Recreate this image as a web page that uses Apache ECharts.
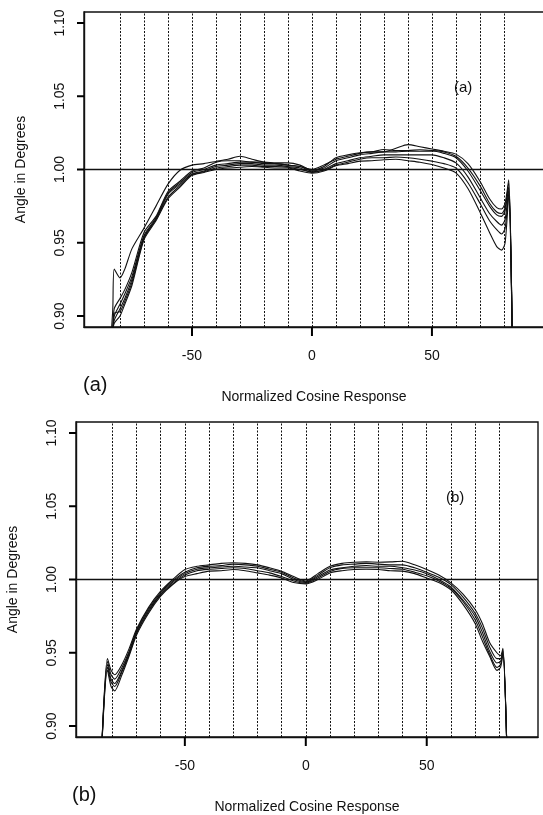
<!DOCTYPE html>
<html>
<head>
<meta charset="utf-8">
<script src="https://cdn.jsdelivr.net/npm/echarts@6/dist/echarts.min.js"></script>
<style>
  html, body { margin: 0; padding: 0; background: #fff; }
  #chart { width: 543px; height: 815px; }
</style>
</head>
<body>
<div id="chart"></div>
<script>
// ---------- data ----------
const xTicks = [-50, 0, 50]
const yTicks = [0.90, 0.95, 1.00, 1.05, 1.10]
const guideX = [-80, -70, -60, -50, -40, -30, -20, -10, 0, 10, 20, 30, 40, 50, 60, 70, 80]
const yMin = 0.8925
const yMax = 1.1075

// panel (a)
const xA = [-84, -83, -82.4, -80, -78, -75, -70, -65, -60, -55, -50, -45, -40, -35, -30, -25, -20, -15, -10, -5,
  0, 5, 10, 15, 20, 25, 30, 35, 40, 45, 50, 55, 60, 65, 70, 74, 77, 79, 80.5, 82, 83.5]
const a1 = [0.88, 0.905, 0.932, 0.926, 0.932, 0.946, 0.960, 0.975, 0.990, 0.9995, 1.003, 1.004, 1.0055, 1.007, 1.009, 1.007, 1.005, 1.004, 1.003, 1.002,
  1.000, 1.003, 1.007, 1.009, 1.011, 1.012, 1.012, 1.0145, 1.017, 1.0155, 1.014, 1.0125, 1.0105, 1.004, 0.992, 0.980, 0.974, 0.973, 0.977, 0.993, 0.88]
const a2 = [0.88, 0.89, 0.905, 0.912, 0.918, 0.930, 0.957, 0.968, 0.985, 0.992, 0.999, 1.001, 1.005, 1.006, 1.006, 1.005, 1.005, 1.0045, 1.0045, 1.003,
  0.9995, 1.002, 1.008, 1.010, 1.0114, 1.012, 1.0137, 1.013, 1.013, 1.0135, 1.013, 1.012, 1.009, 1.001, 0.989, 0.977, 0.971, 0.970, 0.974, 0.991, 0.88]
const a3 = [0.88, 0.89, 0.900, 0.908, 0.915, 0.927, 0.955, 0.967, 0.984, 0.991, 0.998, 1.000, 1.003, 1.004, 1.005, 1.005, 1.004, 1.004, 1.003, 1.002,
  0.999, 1.001, 1.006, 1.008, 1.010, 1.011, 1.012, 1.012, 1.0125, 1.0125, 1.0126, 1.011, 1.008, 0.999, 0.986, 0.975, 0.969, 0.968, 0.972, 0.988, 0.88]
const a4 = [0.88, 0.89, 0.897, 0.905, 0.912, 0.925, 0.954, 0.966, 0.983, 0.990, 0.997, 0.999, 1.002, 1.003, 1.004, 1.004, 1.003, 1.003, 1.002, 1.001,
  0.998, 1.000, 1.004, 1.006, 1.008, 1.009, 1.010, 1.010, 1.010, 1.010, 1.010, 1.008, 1.0045, 0.995, 0.981, 0.970, 0.9645, 0.962, 0.966, 0.986, 0.88]
const a5 = [0.88, 0.89, 0.902, 0.903, 0.910, 0.923, 0.953, 0.966, 0.981, 0.989, 0.9965, 0.9985, 1.001, 1.002, 1.003, 1.003, 1.002, 1.002, 1.0015, 1.000,
  0.9985, 0.9995, 1.003, 1.005, 1.007, 1.008, 1.008, 1.0085, 1.008, 1.007, 1.0057, 1.004, 1.001, 0.991, 0.977, 0.965, 0.9589, 0.956, 0.960, 0.984, 0.88]
const a6 = [0.88, 0.89, 0.895, 0.900, 0.908, 0.921, 0.952, 0.965, 0.980, 0.988, 0.996, 0.998, 1.000, 1.001, 1.0015, 1.002, 1.0015, 1.001, 1.001, 0.999,
  0.9975, 0.999, 1.0025, 1.004, 1.0057, 1.006, 1.0067, 1.007, 1.006, 1.005, 1.0034, 1.001, 0.9977, 0.987, 0.971, 0.957, 0.9474, 0.945, 0.950, 0.982, 0.88]

// panel (b)
const xB = [-84.5, -82, -80.5, -79, -76, -73, -70, -65, -60, -55, -50, -45, -40, -35, -30, -25, -20, -15, -10, -5,
  0, 5, 10, 15, 20, 25, 30, 35, 40, 45, 50, 55, 60, 65, 70, 73, 76, 79, 80.5, 81.5, 83.2]
const b1 = [0.88, 0.946, 0.938, 0.935, 0.942, 0.953, 0.966, 0.981, 0.992, 1.000, 1.0068, 1.009, 1.010, 1.011, 1.0114, 1.011, 1.010, 1.008, 1.0057, 1.002,
  0.999, 1.004, 1.009, 1.011, 1.0118, 1.012, 1.0118, 1.012, 1.0125, 1.010, 1.0068, 1.003, 0.9977, 0.990, 0.9795, 0.970, 0.957, 0.950, 0.948, 0.953, 0.88]
const b2 = [0.88, 0.944, 0.935, 0.932, 0.940, 0.951, 0.965, 0.980, 0.991, 0.999, 1.005, 1.008, 1.009, 1.0095, 1.0105, 1.010, 1.009, 1.007, 1.005, 1.001,
  0.9985, 1.003, 1.008, 1.010, 1.0105, 1.011, 1.0105, 1.010, 1.010, 1.008, 1.005, 1.0015, 0.9965, 0.988, 0.977, 0.967, 0.954, 0.946, 0.946, 0.952, 0.88]
const b3 = [0.88, 0.942, 0.932, 0.929, 0.938, 0.950, 0.964, 0.979, 0.990, 0.998, 1.004, 1.007, 1.008, 1.0085, 1.009, 1.0085, 1.008, 1.006, 1.004, 1.000,
  0.998, 1.002, 1.0065, 1.008, 1.009, 1.0095, 1.009, 1.009, 1.008, 1.0065, 1.004, 1.000, 0.995, 0.986, 0.975, 0.964, 0.951, 0.943, 0.944, 0.951, 0.88]
const b4 = [0.88, 0.940, 0.930, 0.927, 0.937, 0.949, 0.963, 0.978, 0.9895, 0.997, 1.003, 1.006, 1.007, 1.0075, 1.008, 1.0075, 1.006, 1.0045, 1.002, 0.999,
  0.9975, 1.001, 1.0055, 1.0075, 1.008, 1.008, 1.008, 1.0075, 1.007, 1.005, 1.0025, 0.999, 0.994, 0.985, 0.9725, 0.961, 0.949, 0.940, 0.942, 0.950, 0.88]
const b5 = [0.88, 0.938, 0.927, 0.924, 0.935, 0.948, 0.962, 0.977, 0.9886, 0.9966, 1.002, 1.004, 1.0057, 1.006, 1.0068, 1.006, 1.0045, 1.003, 1.001, 0.998,
  0.997, 1.000, 1.0045, 1.006, 1.0068, 1.007, 1.0068, 1.006, 1.0057, 1.004, 1.001, 0.998, 0.993, 0.983, 0.970, 0.958, 0.9476, 0.938, 0.940, 0.949, 0.88]

const curvesA = [a1, a2, a3, a4, a5, a6]
const curvesB = [b1, b2, b3, b4, b5]

// ---------- helpers ----------
const FONT = '"Liberation Sans", Arial, sans-serif'
const INK = '#111'

const xAxisFor = (gridIndex, min, max) => ({
  type: 'value', gridIndex, min, max,
  name: 'Normalized Cosine Response',
  nameLocation: 'middle',
  nameGap: 63,
  nameTextStyle: { color: INK, fontSize: 14, fontFamily: FONT },
  axisLine: { show: true, onZero: false, lineStyle: { color: INK, width: 1.4 } },
  splitLine: { show: false },
  axisTick: { show: false },
  axisLabel: { customValues: xTicks, margin: 22, color: INK, fontSize: 14, fontFamily: FONT }
})

const yAxisFor = (gridIndex) => ({
  type: 'value', gridIndex, min: yMin, max: yMax,
  name: 'Angle in Degrees',
  nameLocation: 'middle',
  nameGap: 56,
  nameTextStyle: { color: INK, fontSize: 14, fontFamily: FONT },
  axisLine: { show: true, onZero: false, lineStyle: { color: INK, width: 1.4 } },
  splitLine: { show: false },
  axisTick: { show: false },
  axisLabel: {
    customValues: yTicks, rotate: 90, margin: 17, color: INK, fontSize: 14, fontFamily: FONT,
    formatter: v => v.toFixed(2)
  }
})

// outward tick marks, placed through the axes' own scales
const tickSeries = (idx, xMin) => ({
  type: 'custom',
  xAxisIndex: idx,
  yAxisIndex: idx,
  silent: true,
  clip: false,
  z: 10,
  data: [
    ...xTicks.map(v => [v, yMin, 0]),
    ...yTicks.map(v => [xMin, v, 1])
  ],
  renderItem: (params, api) => {
    const p = api.coord([api.value(0), api.value(1)])
    const vertical = api.value(2) === 0
    return {
      type: 'line',
      shape: vertical
        ? { x1: p[0], y1: p[1], x2: p[0], y2: p[1] + 9 }
        : { x1: p[0], y1: p[1], x2: p[0] - 7, y2: p[1] },
      style: { stroke: '#000', lineWidth: 2 }
    }
  }
})

const guideLines = () => ({
  silent: true,
  symbol: ['none', 'none'],
  label: { show: false },
  data: [
    ...guideX.map(v => ({ xAxis: v, lineStyle: { type: [2, 1.5], color: INK, width: 1 } })),
    { yAxis: 1.0, lineStyle: { type: 'solid', color: INK, width: 1.3 } }
  ]
})

const curveSeries = (xs, ys, idx, first) => ({
  type: 'line',
  xAxisIndex: idx,
  yAxisIndex: idx,
  data: xs.map((x, i) => [x, ys[i]]),
  showSymbol: false,
  smooth: 0.25,
  clip: true,
  lineStyle: { color: INK, width: 1.1 },
  markLine: first ? guideLines() : undefined
})

const chart = echarts.init(document.getElementById('chart'), null, { renderer: 'canvas' })

const gridBase = { show: true, borderColor: INK, borderWidth: 1.4, backgroundColor: 'transparent', containLabel: false, outerBoundsMode: 'none' }

chart.setOption({
  animation: false,
  backgroundColor: '#fff',
  grid: [
    { ...gridBase, left: 84, top: 12, width: 460, height: 315 },
    { ...gridBase, left: 76, top: 422, width: 462, height: 315 }
  ],
  xAxis: [xAxisFor(0, -95, 96.7), xAxisFor(1, -95, 96)],
  yAxis: [yAxisFor(0), yAxisFor(1)],
  graphic: [
    { type: 'text', left: 83, top: 375, style: { text: '(a)', fill: INK, font: '20px ' + FONT } },
    { type: 'text', left: 72, top: 785, style: { text: '(b)', fill: INK, font: '20px ' + FONT } },
    { type: 'text', left: 454, top: 80, style: { text: '(a)', fill: INK, font: '15px ' + FONT } },
    { type: 'text', left: 446, top: 490, style: { text: '(b)', fill: INK, font: '15px ' + FONT } }
  ],
  series: [
    ...curvesA.map((ys, i) => curveSeries(xA, ys, 0, i === 0)),
    ...curvesB.map((ys, i) => curveSeries(xB, ys, 1, i === 0)),
    tickSeries(0, -95),
    tickSeries(1, -95)
  ]
})
</script>
</body>
</html>
